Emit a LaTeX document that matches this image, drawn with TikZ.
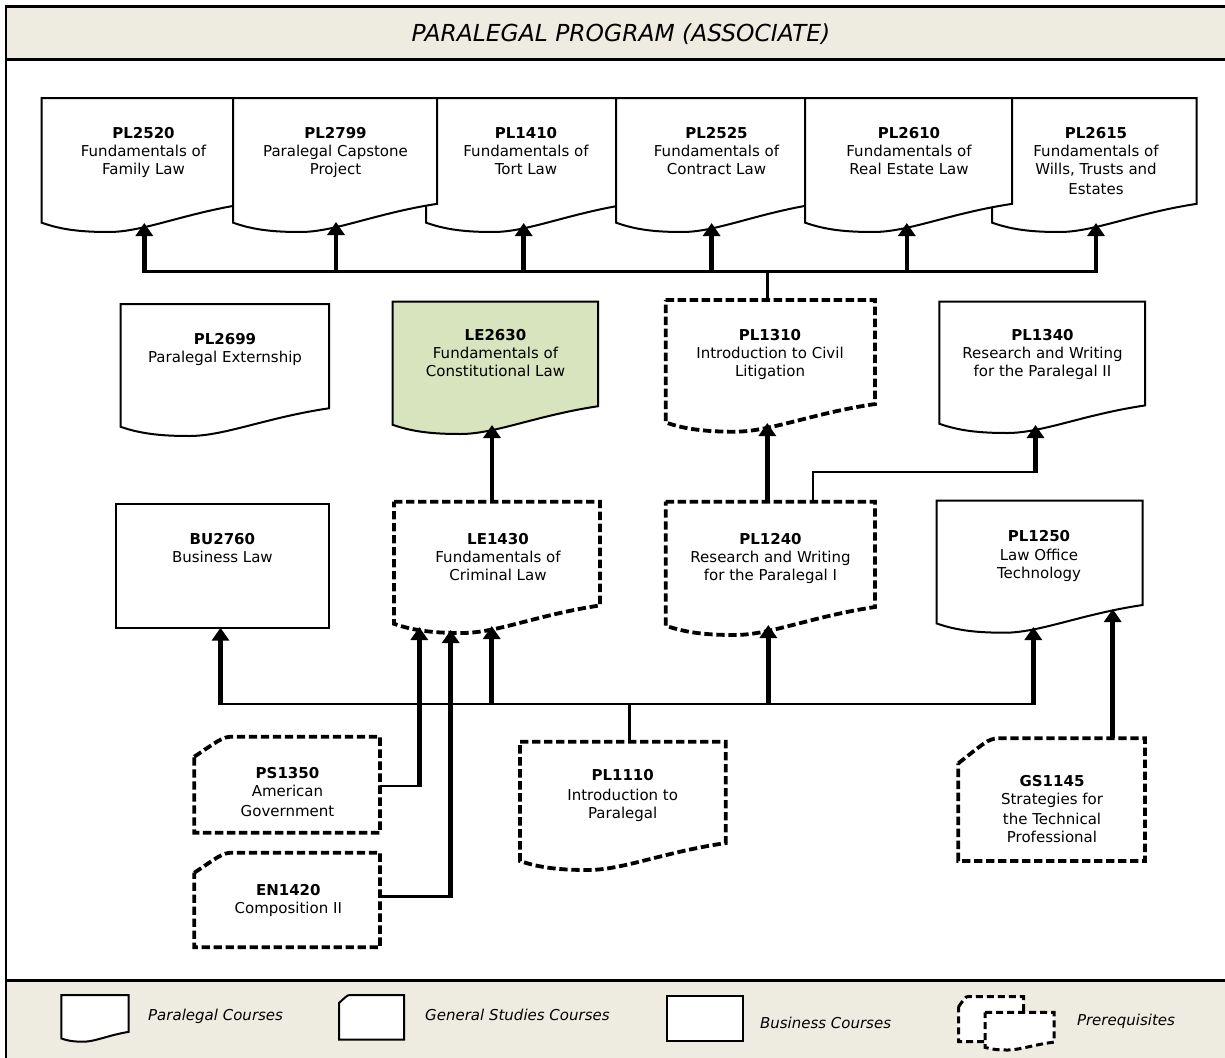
\documentclass[tikz,border=0pt]{standalone}
\usepackage{fontspec}
\setmainfont{DejaVu Sans}
\usetikzlibrary{arrows.meta}
\definecolor{bandbeige}{HTML}{EEECE1}
\definecolor{constgreen}{HTML}{D7E4BD}

% paralegal (document) outline: x0 y0 w h opts
\newcommand\paradoc[5]{%
  \path[#5] (#1,#2) -- (#1+#3,#2) -- (#1+#3,#2+0.79*#4)
    .. controls (#1+0.7*#3,#2+0.86*#4) and (#1+0.5*#3,#2+#4) .. (#1+0.33*#3,#2+#4)
    .. controls (#1+0.2*#3,#2+#4) and (#1+0.1*#3,#2+0.985*#4) .. (#1,#2+0.93*#4) -- cycle;}
% general studies outline (cut corner): x0 y0 x1 y1 c1 c2 opts
\newcommand\gsdoc[7]{%
  \path[#7] (#1,#2+#5) .. controls (#1+0.6*#6,#2+0.25*#5) and (#1+0.75*#6,#2) .. (#1+#6,#2)
    -- (#3,#2) -- (#3,#4) -- (#1,#4) -- cycle;}

\begin{document}
\begin{tikzpicture}[x=1pt,y=-1pt,
  shp/.style={draw=black, line width=2pt, fill=white, line join=miter},
  prereq/.style={line width=3.8pt, dash pattern=on 8.3pt off 3.7pt},
  ct/.style={font=\fontsize{15}{18}\selectfont, align=center, inner sep=0pt, anchor=north},
  lgt/.style={font=\fontsize{15}{18}\selectfont\itshape, inner sep=0pt, anchor=base west},
  arrowstem/.style={line width=4.5pt, -{Triangle[width=17pt,length=13pt]}},
  frombus/.style={shorten <=-1.25pt},
  busline/.style={line width=2.5pt}]
\useasboundingbox (0,0) rectangle (1225,1057);
\clip (0,0) rectangle (1225,1057);

% frame and bands
\fill[white] (0,0) rectangle (1225,1057);
\fill[bandbeige] (5.9,6.7) rectangle (1240,59.3);
\fill[bandbeige] (5.9,980.7) rectangle (1240,1070);
\draw[line width=2.5pt] (1240,59.3) -- (5.9,59.3);
\draw[line width=2.5pt] (1240,980.7) -- (5.9,980.7);
\draw[line width=2.5pt] (5.9,6.7) rectangle (1240,1070);
\node[anchor=base, font=\fontsize{23.4}{28}\selectfont\itshape, inner sep=0pt] (title) at (621,41.7) {PARALEGAL PROGRAM (ASSOCIATE)};

% ---- top row (paralegal courses) ----
\paradoc{41.5}{98}{204}{134}{shp}
\paradoc{426}{98}{204}{134}{shp}
\paradoc{992}{98}{204.5}{134}{shp}
\paradoc{616}{98}{201}{134}{shp}
\paradoc{233}{98}{204}{134}{shp}
\paradoc{805}{98}{207}{134}{shp}

\node[ct] (t-pl2520) at (143.5,125.6) {\strut\textbf{PL2520}\\Fundamentals of\\Family Law};
\node[ct] (t-pl2799) at (335.5,125.6) {\strut\textbf{PL2799}\\Paralegal Capstone\\Project};
\node[ct] (t-pl1410) at (526,125.6) {\strut\textbf{PL1410}\\Fundamentals of\\Tort Law};
\node[ct] (t-pl2525) at (716.5,125.6) {\strut\textbf{PL2525}\\Fundamentals of\\Contract Law};
\node[ct] (t-pl2610) at (909,125.6) {\strut\textbf{PL2610}\\Fundamentals of\\Real Estate Law};
\node[ct] (t-pl2615) at (1096,125.6) {\strut\textbf{PL2615}\\Fundamentals of\\Wills, Trusts and\\[2pt]Estates};

% ---- second row ----
\paradoc{120.5}{304}{208.5}{132}{shp}
\paradoc{392.5}{301.7}{205.5}{132.3}{shp,fill=constgreen}
\paradoc{665.7}{300}{209.3}{131.7}{shp,prereq}
\paradoc{939.4}{301.7}{205.6}{131.3}{shp}

\node[ct] (t-pl2699) at (225,331.2) {\strut\textbf{PL2699}\\Paralegal Externship};
\node[ct] (t-le2630) at (495.5,327.9) {\strut\textbf{LE2630}\\Fundamentals of\\Constitutional Law};
\node[ct] (t-pl1310) at (770,327.9) {\strut\textbf{PL1310}\\Introduction to Civil\\Litigation};
\node[ct] (t-pl1340) at (1042.5,327.9) {\strut\textbf{PL1340}\\Research and Writing\\for the Paralegal II};

% ---- third row ----
\path[shp] (115.8,504) rectangle (329,627.7);
\paradoc{394}{501.7}{206}{131.3}{shp,prereq}
\paradoc{665.7}{501.7}{209.3}{133.3}{shp,prereq}
\paradoc{936.7}{500.7}{205.9}{132}{shp}

\node[ct] (t-bu2760) at (222.4,531.2) {\strut\textbf{BU2760}\\Business Law};
\node[ct] (t-le1430) at (498,531.2) {\strut\textbf{LE1430}\\Fundamentals of\\Criminal Law};
\node[ct] (t-pl1240) at (770.5,531.2) {\strut\textbf{PL1240}\\Research and Writing\\for the Paralegal I};
\node[ct] (t-pl1250) at (1039,529) {\strut\textbf{PL1250}\\[1pt]Law Office\\Technology};

% ---- bottom row ----
\gsdoc{194.3}{736.7}{380}{832.7}{20}{37.5}{shp,prereq}
\gsdoc{194.3}{852.7}{380}{947.3}{20}{37.5}{shp,prereq}
\paradoc{520}{741.7}{205.7}{128.3}{shp,prereq}
\gsdoc{958.3}{738.3}{1145}{861}{25}{40}{shp,prereq}

\node[ct] (t-ps1350) at (287.5,765.2) {\strut\textbf{PS1350}\\American\\[2pt]Government};
\node[ct] (t-en1420) at (288.3,882.9) {\strut\textbf{EN1420}\\Composition II};
\node[ct] (t-pl1110) at (622.7,767.9) {\strut\textbf{PL1110}\\[2pt]Introduction to\\Paralegal};
\node[ct] (t-gs1145) at (1052,773.6) {\strut\textbf{GS1145}\\Strategies for\\[2pt]the Technical\\Professional};

% ---- connection points ----
\coordinate (pl2520-in) at (144.3,223);
\coordinate (pl2799-in) at (336,222);
\coordinate (pl1410-in) at (523.7,223);
\coordinate (pl2525-in) at (711.6,223);
\coordinate (pl2610-in) at (906.8,223);
\coordinate (pl2615-in) at (1096,223);
\coordinate (topbus) at (767.3,271.7);
\coordinate (pl1310-top) at (767.3,300);

\coordinate (le2630-in) at (492,425);
\coordinate (pl1310-in) at (767.3,423);
\coordinate (pl1340-in) at (1035.5,425);
\coordinate (le1430-top) at (492,501.7);
\coordinate (pl1240-top) at (767.3,501.7);
\coordinate (pl1240-top2) at (813,501.7);
\coordinate (j1340) at (813,472);

\coordinate (bu2760-in) at (220.5,627.7);
\coordinate (le1430-in1) at (419.3,627);
\coordinate (le1430-in2) at (450.7,630);
\coordinate (le1430-in3) at (491.7,626);
\coordinate (pl1240-in) at (768.3,625);
\coordinate (pl1250-in1) at (1033.3,627);
\coordinate (pl1250-in2) at (1112.7,609);
\coordinate (lowbus) at (629.3,704);
\coordinate (pl1110-top) at (629.3,741.7);
\coordinate (ps1350-e) at (380,786);
\coordinate (en1420-e) at (380,896.7);
\coordinate (gs1145-top) at (1112.7,738.3);

% ---- connectors, top ----
\draw[busline] (pl1310-top) -- (topbus);
\draw[busline] (pl2520-in |- topbus) -- (pl2615-in |- topbus);
\foreach \c in {pl2520,pl2799,pl1410,pl2525,pl2610,pl2615}
  \draw[arrowstem,frombus] (\c-in |- topbus) -- (\c-in);

% ---- connectors, middle ----
\draw[arrowstem] (le1430-top) -- (le2630-in);
\draw[arrowstem] (pl1240-top) -- (pl1310-in);
\draw[busline] (pl1240-top2) -- (j1340) -- (pl1340-in |- j1340);
\draw[arrowstem,frombus] (pl1340-in |- j1340) -- (pl1340-in);

% ---- connectors, bottom ----
\draw[busline] (pl1110-top) -- (lowbus);
\draw[busline] (bu2760-in |- lowbus) -- (pl1250-in1 |- lowbus);
\foreach \c in {bu2760-in,le1430-in3,pl1240-in,pl1250-in1}
  \draw[arrowstem,frombus] (\c |- lowbus) -- (\c);
\draw[busline] (ps1350-e) -- (le1430-in1 |- ps1350-e);
\draw[arrowstem,frombus] (le1430-in1 |- ps1350-e) -- (le1430-in1);
\draw[busline] (en1420-e) -- (le1430-in2 |- en1420-e);
\draw[arrowstem,frombus] (le1430-in2 |- en1420-e) -- (le1430-in2);
\draw[arrowstem] (gs1145-top) -- (pl1250-in2);

% ---- legend ----
\paradoc{61.3}{995}{67.2}{46.7}{shp}
\gsdoc{339}{995}{404}{1039.7}{8}{11}{shp}
\path[shp] (667,995.7) rectangle (742.8,1041);
\gsdoc{958.6}{996.7}{1023.5}{1041.7}{10}{9}{shp,line width=3pt,dash pattern=on 7pt off 4pt}
\paradoc{985}{1012.3}{69}{37.7}{shp,line width=3pt,dash pattern=on 7pt off 4pt}

\node[lgt] (lg-para) at (148,1020.5) {Paralegal Courses};
\node[lgt] (lg-gen) at (425,1020.5) {General Studies Courses};
\node[lgt] (lg-bus) at (759.8,1028.2) {Business Courses};
\node[lgt] (lg-pre) at (1076.8,1025.5) {Prerequisites};
\end{tikzpicture}
\end{document}
